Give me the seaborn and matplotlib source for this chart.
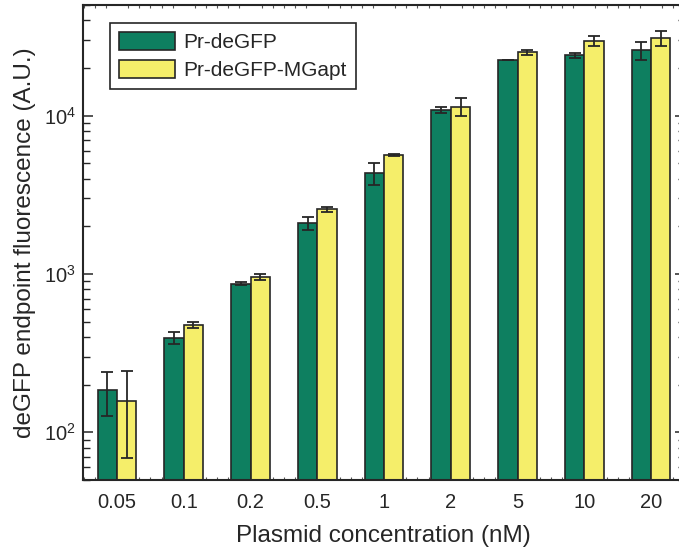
import numpy as np
import pandas as pd
import matplotlib
matplotlib.use("Agg")
import matplotlib.pyplot as plt
from matplotlib.ticker import MultipleLocator, LogLocator, NullFormatter
import seaborn as sns

# ---- data ----
concentrations = ["0.05", "0.1", "0.2", "0.5", "1", "2", "5", "10", "20"]
series_names = ["Pr-deGFP", "Pr-deGFP-MGapt"]
pr_degfp = [184, 396, 869, 2100, 4330, 10820, 22440, 24100, 25800]
pr_degfp_err = [57, 35, 15, 190, 670, 470, 100, 950, 3300]
pr_degfp_mgapt = [157, 478, 957, 2560, 5640, 11400, 25060, 29700, 30900]
pr_degfp_mgapt_err = [88, 21, 40, 105, 50, 1500, 900, 2200, 3400]

colors = ["#0E7F60", "#F5EE6A"]
ink = "#262626"

sns.set_theme(style="ticks")
plt.rcParams["font.family"] = ["Liberation Sans", "DejaVu Sans"]
plt.rcParams["mathtext.fontset"] = "custom"
plt.rcParams["mathtext.rm"] = "Liberation Sans"
plt.rcParams["mathtext.it"] = "Liberation Sans:italic"
plt.rcParams["mathtext.bf"] = "Liberation Sans:bold"
plt.rcParams["text.color"] = ink
plt.rcParams["axes.labelcolor"] = ink
plt.rcParams["xtick.labelcolor"] = ink
plt.rcParams["ytick.labelcolor"] = ink

df = pd.DataFrame({
    "conc": concentrations * 2,
    "value": pr_degfp + pr_degfp_mgapt,
    "err": pr_degfp_err + pr_degfp_mgapt_err,
    "construct": [series_names[0]] * len(concentrations) + [series_names[1]] * len(concentrations),
})

W, H = 679, 556
fig = plt.figure(figsize=(W / 100, H / 100), dpi=100)
ax = fig.add_axes([83 / W, (H - 480) / H, (684.5 - 83) / W, (480 - 5) / H])
ax.set_yscale("log")

sns.barplot(data=df, x="conc", y="value", hue="construct", order=concentrations,
            hue_order=series_names, palette=colors, width=0.58, errorbar=None,
            edgecolor=ink, linewidth=1.2, saturation=1, ax=ax)

# error bars placed at the centres of the drawn bars
n = len(concentrations)
bars = [p for p in ax.patches if p.get_height() > 0][:2 * n]
xs = [b.get_x() + b.get_width() / 2 for b in bars]
vals = pr_degfp + pr_degfp_mgapt
errs = pr_degfp_err + pr_degfp_mgapt_err
ax.errorbar(xs, vals, yerr=errs, fmt="none", ecolor=ink,
            elinewidth=1.3, capsize=4.3, capthick=1.3, zorder=5)

ax.set_xlim(-0.51, 8.5)
ax.set_ylim(50, 50000)

ax.yaxis.set_major_locator(LogLocator(base=10))
ax.yaxis.set_minor_locator(LogLocator(base=10, subs=np.arange(2, 10)))
ax.yaxis.set_minor_formatter(NullFormatter())
ax.tick_params(axis="y", which="major", direction="in", length=7.2, width=1.1,
               right=True, left=True, labelsize=14.5, pad=5, color=ink)
ax.tick_params(axis="y", which="minor", direction="in", length=5, width=1.0,
               right=True, left=True, color=ink)
ax.xaxis.set_minor_locator(MultipleLocator(1 / 6))
ax.tick_params(axis="x", which="major", length=0, labelsize=14.5, pad=9)
ax.tick_params(axis="x", which="minor", direction="in", length=2.5, width=0.8,
               top=True, bottom=True, color="#555555")

for s in ax.spines.values():
    s.set_linewidth(1.5)
    s.set_color(ink)

ax.set_xlabel("Plasmid concentration (nM)", fontsize=17.5, labelpad=10)
ax.set_ylabel("deGFP endpoint fluorescence (A.U.)", fontsize=17.5, labelpad=6)

leg = ax.legend(loc="upper left", bbox_to_anchor=(0.045, 0.962), borderaxespad=0,
                fontsize=15, frameon=True, fancybox=False, edgecolor=ink,
                handlelength=2.7, handleheight=1.0, handletextpad=0.4,
                labelspacing=0.35, borderpad=0.42, title=None)
leg.get_frame().set_linewidth(1.2)
leg.get_frame().set_alpha(1)

fig.savefig("out.png", dpi=100)
